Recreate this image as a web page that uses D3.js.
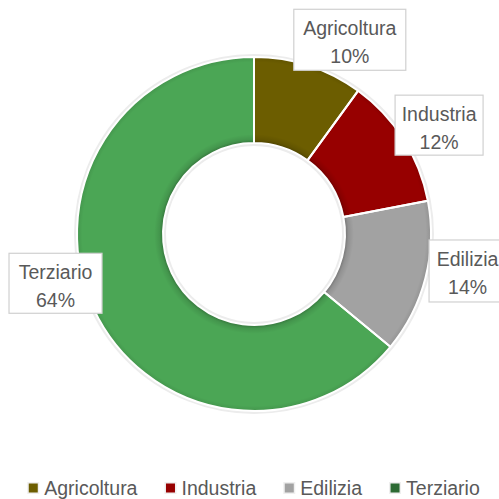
<!DOCTYPE html>
<html>
<head>
<meta charset="utf-8">
<script src="https://cdn.jsdelivr.net/npm/d3@7/dist/d3.min.js"></script>
<style>
  html, body { margin: 0; padding: 0; background: #fff; }
  svg { display: block; }
  text { font-family: "Liberation Sans", "DejaVu Sans", sans-serif; fill: #595959; }
</style>
</head>
<body>
<svg id="chart" width="499" height="499"></svg>
<script>
// Occupati per settore (%)
const sectors = ["Agricoltura", "Industria", "Edilizia", "Terziario"];
const shares = [10, 12, 14, 64];
const sliceColors = ["#6c5d00", "#970000", "#a2a2a2", "#4ba655"];
const legendColors = ["#6c5d00", "#970000", "#a2a2a2", "#2d6b34"];

const W = 499, H = 499;
const cx = 254, cy = 234;
const outerR = 177, innerR = 91;

const svg = d3.select("#chart");
const defs = svg.append("defs");

// soft shading toward ring edges (bevel look); centred on the ring's own origin
const grad = defs.append("radialGradient")
  .attr("id", "ringShade")
  .attr("gradientUnits", "userSpaceOnUse")
  .attr("cx", 0).attr("cy", 0).attr("r", outerR);
const k = innerR / outerR;
[[0, 0.3], [k, 0.3], [k + 0.02, 0.1], [k + 0.05, 0], [0.97, 0], [1, 0.1]].forEach(([o, a]) => {
  grad.append("stop").attr("offset", o).attr("stop-color", "#000").attr("stop-opacity", a);
});

const g = svg.append("g").attr("transform", `translate(${cx},${cy})`);

// faint halo around the ring
g.append("circle").attr("r", outerR + 1.5).attr("fill", "none")
  .attr("stroke", "#ececec").attr("stroke-width", 3);
g.append("circle").attr("r", innerR - 1.5).attr("fill", "none")
  .attr("stroke", "#ececec").attr("stroke-width", 3);

const pie = d3.pie().sort(null).value(d => d.v);
const data = sectors.map((s, i) => ({ name: s, v: shares[i], i }));
const arcs = pie(data);
const arc = d3.arc().innerRadius(innerR).outerRadius(outerR);

g.selectAll("path.slice").data(arcs).join("path")
  .attr("class", "slice")
  .attr("d", arc)
  .attr("fill", d => sliceColors[d.data.i]);

g.selectAll("path.shade").data(arcs).join("path")
  .attr("class", "shade")
  .attr("d", arc)
  .attr("fill", "url(#ringShade)");

g.selectAll("path.sep").data(arcs).join("path")
  .attr("class", "sep")
  .attr("d", arc)
  .attr("fill", "none")
  .attr("stroke", "#fff")
  .attr("stroke-width", 2)
  .attr("stroke-linejoin", "round");

// data labels: boxes placed outside each slice
// radial distance from centre and a small nudge per label
const labelLayout = [
  { r: 200, dx: 34, dy: -4, w: 112, h: 61 },
  { r: 205, dx: 12, dy: 1, w: 88, h: 60 },
  { r: 205, dx: 15, dy: -14, w: 77, h: 62 },
  { r: 205, dx: -13, dy: -38, w: 93, h: 60 }
];

const labels = svg.append("g");
arcs.forEach((a, idx) => {
  const L = labelLayout[idx];
  const mid = (a.startAngle + a.endAngle) / 2;
  const px = cx + Math.sin(mid) * L.r + L.dx;
  const py = cy - Math.cos(mid) * L.r + L.dy;
  const lg = labels.append("g").attr("transform", `translate(${px},${py})`);
  lg.append("rect")
    .attr("x", -L.w / 2).attr("y", -L.h / 2)
    .attr("width", L.w).attr("height", L.h)
    .attr("fill", "#fff").attr("stroke", "#d0d0d0").attr("stroke-width", 1.2);
  lg.append("text").attr("text-anchor", "middle").attr("y", -L.h / 2 + 26)
    .style("font-size", "19.5px").text(a.data.name);
  lg.append("text").attr("text-anchor", "middle").attr("y", -L.h / 2 + 54)
    .style("font-size", "19.5px").text(a.data.v + "%");
});

// legend row
const legend = svg.append("g");
const legY = 495;
const gap = 27;
const items = legend.selectAll("g.item").data(data).join("g").attr("class", "item");
items.append("rect").attr("class", "halo")
  .attr("width", 12).attr("height", 12).attr("y", legY - 13)
  .attr("fill", "#efefef");
items.append("rect").attr("class", "sw")
  .attr("width", 9).attr("height", 9).attr("x", 1.5).attr("y", legY - 11.5)
  .attr("fill", d => legendColors[d.i]);
items.append("text").attr("x", 17).attr("y", legY)
  .style("font-size", "19.5px").text(d => d.name);

let x = 0;
const positions = [];
items.each(function () {
  const tw = d3.select(this).select("text").node().getComputedTextLength();
  positions.push(x);
  x += 17 + tw + gap;
});
const total = x - gap;
const x0 = (W - total) / 2 + 4;
items.attr("transform", (d, i) => `translate(${x0 + positions[i]},0)`);
</script>
</body>
</html>
